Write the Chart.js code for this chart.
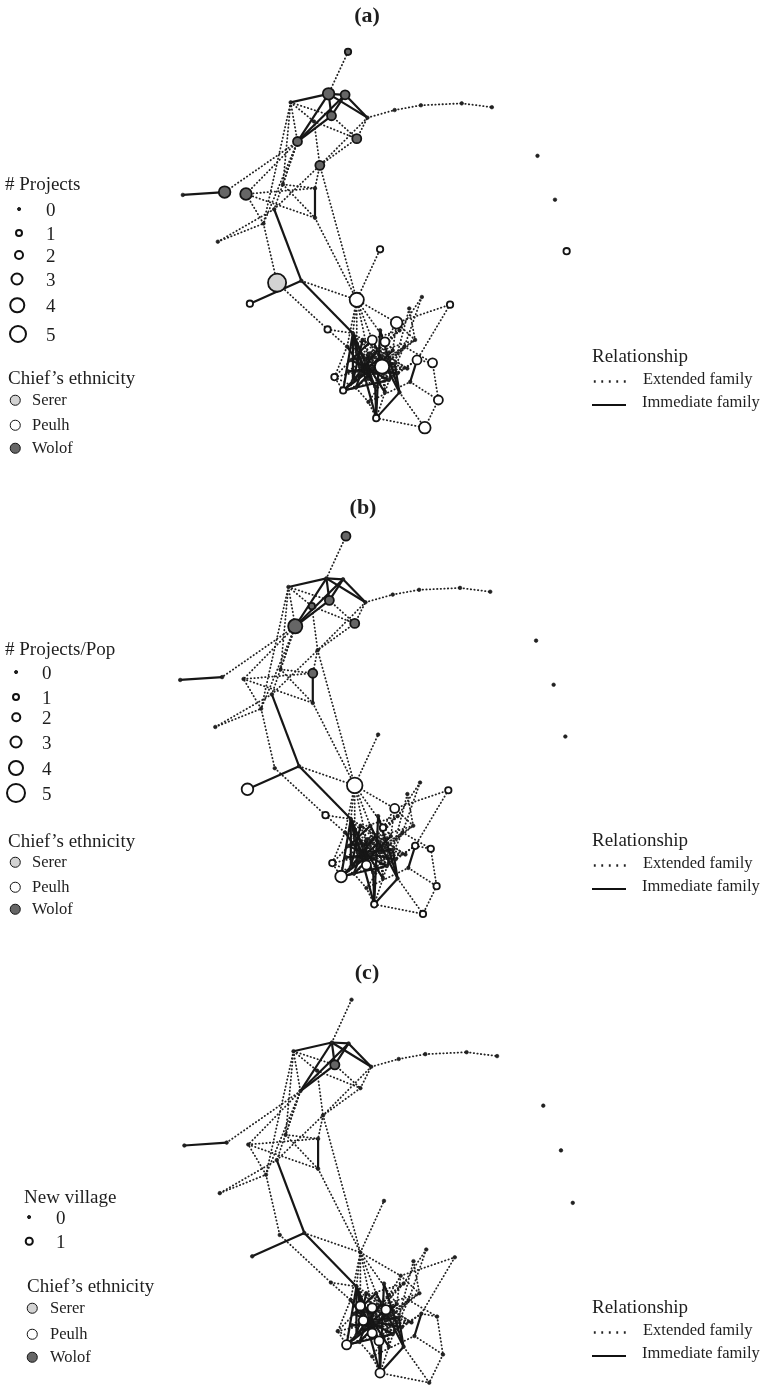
<!DOCTYPE html>
<html><head><meta charset="utf-8">
<script src="https://cdn.jsdelivr.net/npm/chart.js@4.4.1/dist/chart.umd.min.js"></script>
<style>
html,body{margin:0;padding:0;background:#fff;}
body{width:766px;height:1392px;position:relative;overflow:hidden;font-family:'Liberation Serif','Times New Roman',serif;color:#1e1e1e;}
canvas{position:absolute;left:0;}
.t{position:absolute;white-space:nowrap;transform:translateY(-50%);line-height:1;z-index:2;}
.title{font-weight:bold;font-size:22px;transform:translate(-50%,-50%);}
.h{font-size:19px;}
.n{font-size:19px;}
.l{font-size:16.5px;}
.sym{position:absolute;border-radius:50%;box-sizing:border-box;transform:translate(-50%,-50%);z-index:2;}
.dots{position:absolute;height:3px;z-index:2;background-image:radial-gradient(circle,#222 1px,rgba(255,255,255,0) 1.4px);background-size:7.5px 3px;background-position:0 0;}
.solid{position:absolute;height:2px;background:#111;z-index:2;}
</style></head><body>
<canvas id="pa" width="766" height="470" style="top:0px"></canvas>
<canvas id="pb" width="766" height="465" style="top:470px"></canvas>
<canvas id="pc" width="766" height="457" style="top:935px"></canvas>
<div id="legends"></div>
<script>
// ---------------- DATA ----------------
const panelTitles = ['(a)', '(b)', '(c)'];
const sizeLegendTitles = ['# Projects', '# Projects/Pop', 'New village'];
const projectTicks = ['0', '1', '2', '3', '4', '5'];
const newVillageTicks = ['0', '1'];
const ethnicityTitle = 'Chief\u2019s ethnicity';
const ethnicityLabels = ['Serer', 'Peulh', 'Wolof'];
const relationshipTitle = 'Relationship';
const relationshipLabels = ['Extended family', 'Immediate family'];

const nodeIds = ['n0','n1','n2','n3','n4','n5','n6','n7','n8','n9','n10','n11','n12','n13','n14','n15','n16','n17','n18',
  'a1','a2','a3','a4','r1','r2','r3','hub','grey','leaf','w1','w2','m1','w3','w4','m2','m3',
  'c1','c2','c3','c4','c5','c6','c7','c8','c9','c10','c11','c12','c13','c14','c15','c16','c17','c18','c19','c20',
  'c21','c22','c23','c24','c25','c26','c27','c28','c29','c30','c31',
  'c32','c33','c34','c35','c36','c37','c38','c39','c40','c41'];
const nodeX = [347,327,344,288,330,367,312,295,356,318,220,242,177,313,313,271,213,260,280,
  395,422,464,495,542,560,572,299,274,246,356,380,326,397,452,423,410,
  352,342,376,400,411,372,385,382,368,360,375,395,393,350,405,346,389,368,355,400,
  416,333,356,382,359,368,418,434,440,426,380,
  362,378,398,352,385,408,365,390,347,372];
const nodeY = [43,87,88,96,110,112,116,137,134,162,190,192,193,186,217,208,242,223,182,
  104,99,97,101,152,198,252,283,285,307,303,250,334,327,308,300,312,
  338,398,427,400,389,345,347,373,360,380,394,370,356,366,352,352,387,410,395,335,
  345,384,358,362,373,386,366,369,408,437,335,
  345,355,380,388,400,375,368,365,378,375];
const ethnicity = ['W','W','W','W','W','W','W','W','W','W','W','W','W','W','W','S','S','S','S',
  'W','W','W','W','P','P','P','S','S','P','P','P','P','P','P','P','P',
  'P','P','P','P','P','P','P','P','P','P','P','P','P','P','P','P','P','P','P','P',
  'P','P','P','P','P','P','P','P','P','P','P',
  'P','P','P','P','P','P','P','P','P','P'];
// panel (a): number of projects
const projects = [1,3,2,0,2,0,0,2,2,2,3,3,0,0,0,0,0,0,0,
  0,0,0,0,0,0,1,0,5.5,1,4,1,1,3,1,0,0,
  0,1,1,0,0,2,2,4,0,0,0,0,0,0,0,0,0,0,0,0,
  0,1,0,0,0,0,2,2,2,3,0,
  0,0,0,0,0,0,0,0,0,0];
// panel (b): projects per population
const projectsPerPop = [2,0,0,0,2,0,1,4,2,0,0,0,0,2,0,0,0,0,0,
  0,0,0,0,0,0,0,0,0,3,4.5,0,1,2,1,0,0,
  0,3,1,0,0,0,1,0,0,0,0,0,0,0,0,0,0,0,0,0,
  0,1,0,0,0,2,1,1,1,1,0,
  0,0,0,0,0,0,0,0,0,0];
// panel (c): new village
const newVillage = [0,0,0,0,1,0,0,0,0,0,0,0,0,0,0,0,0,0,0,
  0,0,0,0,0,0,0,0,0,0,0,0,0,0,0,0,0,
  0,1,1,0,0,0,0,0,1,0,1,0,0,0,0,0,0,0,0,0,
  0,0,1,1,1,1,0,0,0,0,0,
  0,0,0,0,0,0,0,0,0,0];

const extendedFamily = [
  ['n0','n1'],['n5','a1'],['a1','a2'],['a2','a3'],['a3','a4'],
  ['n3','n7'],['n3','n6'],['n3','n4'],['n6','n8'],['n4','n8'],['n8','n5'],['n5','n9'],['n8','n9'],['n6','n9'],['n3','n17'],['n3','n18'],
  ['n7','n11'],['n7','n10'],['n7','n15'],['n7','n18'],['n7','n17'],
  ['n15','n16'],['n15','n9'],['n11','n13'],['n11','n14'],['n9','n13'],['n16','n17'],['n17','grey'],['n17','n11'],['n18','n14'],['n18','n13'],
  ['n14','w1'],['n9','w1'],['hub','w1'],['grey','m1'],['m1','c1'],['m1','c16'],
  ['w1','w2'],['w1','c1'],['w1','c6'],['w1','c9'],['w1','c13'],['w1','c16'],['w1','c23'],['w1','w3'],
  ['w3','w4'],['w3','c7'],['w3','c13'],['w3','c21'],['w4','c27'],['m2','c20'],['m2','c15'],['m3','c21'],['m3','c12'],
  ['c27','c28'],['c28','c29'],['c29','c30'],['c30','c4'],['c5','c29'],['c28','c15'],
  ['c2','c22'],['c22','c14'],['c22','c19'],['c16','c22'],['c3','c18'],['c18','c19'],['c3','c30'],
  ['c9','c12'],['c10','c12'],['c13','c14'],['c14','c24'],['c15','c17'],['c16','c8'],['c19','c8'],['c23','c12'],['c24','c26'],
  ['c25','c13'],['c26','c15'],['c6','c17'],['c7','c10'],['c8','c21'],['c11','c15'],['c20','c9'],['c20','c16'],['c12','c18'],
  ['c17','c25'],['c27','c11'],['c1','c8'],['c21','c14'],['c20','c25'],['c13','c19'],['c24','c10'],['c3','c12'],['c18','c5'],['c27','c17'],
  ['c32','c34'],['c33','c35'],['c33','c40'],['c34','c40'],['c35','c39'],['c36','c38'],['c37','c38'],['c37','c40'],['c38','c39'],
  ['c39','c35'],['c41','c21'],['c41','c32'],['c36','c33'],['c32','c37'],['c35','c20'],['c6','c41'],['c7','c36'],['c12','c40'],
  ['c15','c35'],['c9','c34'],['c24','c36'],['c23','c37'],['c26','c39'],['c13','c41'],['c1','c37'],['c22','c41'],['c19','c34'],
  ['c16','c39'],['c14','c33'],['c10','c37']
];
const immediateFamily = [
  ['n3','n1'],['n1','n2'],['n1','n7'],['n2','n7'],['n1','n4'],['n2','n4'],['n2','n5'],['n1','n5'],['n4','n7'],
  ['n12','n10'],['n13','n14'],['n15','hub'],['hub','leaf'],['hub','c1'],
  ['c1','c2'],['c1','c10'],['c1','c3'],['c1','c11'],['c2','c10'],['c2','c19'],['c2','c17'],['c3','c31'],['c31','c4'],['c3','c4'],
  ['c3','c11'],['c4','c12'],['c4','c6'],['c6','c14'],['c10','c24'],['c14','c17'],['c19','c9'],['c16','c11'],['c5','c27'],
  ['c9','c26'],['c25','c12'],['c23','c11'],['c19','c13'],
  ['c1','c38'],['c35','c33'],['c38','c36'],['c40','c41'],['c41','c34'],['c32','c35'],['c2','c41'],['c1','c35']
];

// ---------------- STYLE ----------------
const ethFill = {S:'#d3d3d3', P:'#ffffff', W:'#666666'};
function radiusAB(v){ return v === 0 ? 1.8 : 1.9 + 1.3 * v; }
function radiusC(v){ return v === 0 ? 1.8 : 4.6; }

const idx = {};
nodeIds.forEach((id, i) => idx[id] = i);

function edgeDataset(pair, solid){
  const a = idx[pair[0]], b = idx[pair[1]];
  return {
    type: 'scatter', showLine: true,
    data: [{x: nodeX[a], y: nodeY[a]}, {x: nodeX[b], y: nodeY[b]}],
    borderColor: solid ? '#161616' : '#222222',
    borderWidth: solid ? 2.2 : 1.8,
    borderDash: solid ? [] : [0.4, 3.2],
    borderCapStyle: solid ? 'butt' : 'round',
    pointRadius: 0, order: solid ? 1 : 2, clip: false
  };
}

function makePanel(canvasId, values, radiusFn, dx, dy, top, height){
  const datasets = [{
    type: 'scatter',
    data: nodeIds.map((id, i) => ({x: nodeX[i], y: nodeY[i]})),
    pointRadius: values.map(radiusFn),
    pointBackgroundColor: values.map((v, i) => v === 0 ? '#222222' : ethFill[ethnicity[i]]),
    pointBorderColor: '#141414',
    pointBorderWidth: values.map(v => v === 0 ? 0.6 : 1.8),
    order: 0, clip: false
  }];
  extendedFamily.forEach(p => datasets.push(edgeDataset(p, false)));
  immediateFamily.forEach(p => datasets.push(edgeDataset(p, true)));
  new Chart(document.getElementById(canvasId), {
    type: 'scatter',
    data: {datasets},
    options: {
      responsive: false, animation: false, events: [], devicePixelRatio: 1,
      layout: {padding: 0},
      plugins: {legend: {display: false}, tooltip: {enabled: false}},
      scales: {
        x: {type: 'linear', display: false, min: -dx, max: 766 - dx},
        y: {type: 'linear', display: false, reverse: true, min: top - dy, max: top + height - dy}
      }
    }
  });
}

makePanel('pa', projects, radiusAB, 0, 0, 0, 470);
makePanel('pb', projectsPerPop, radiusAB, -2, 486, 470, 465);
makePanel('pc', newVillage, radiusC, 4, 952, 935, 457);

// ---------------- LEGENDS (DOM text) ----------------
const L = document.getElementById('legends');
function text(str, cls, left, cy){
  const d = document.createElement('div');
  d.className = 't ' + cls; d.textContent = str;
  d.style.left = left + 'px'; d.style.top = cy + 'px';
  L.appendChild(d);
}
function sym(cx, cy, dia, fill, bw){
  const d = document.createElement('div');
  d.className = 'sym';
  d.style.left = cx + 'px'; d.style.top = cy + 'px';
  d.style.width = dia + 'px'; d.style.height = dia + 'px';
  d.style.background = fill; d.style.border = bw + 'px solid #111';
  L.appendChild(d);
}
function title(str, cx, cy){
  const d = document.createElement('div');
  d.className = 't title'; d.textContent = str;
  d.style.left = cx + 'px'; d.style.top = cy + 'px';
  L.appendChild(d);
}
function relLegend(top){
  text(relationshipTitle, 'h', 592, top);
  const ds = document.createElement('div'); ds.className = 'dots';
  ds.style.left = '591px'; ds.style.width = '37px'; ds.style.top = (top + 25) + 'px'; L.appendChild(ds);
  text(relationshipLabels[0], 'l', 643, top + 24);
  const sl = document.createElement('div'); sl.className = 'solid';
  sl.style.left = '592px'; sl.style.width = '34px'; sl.style.top = (top + 49) + 'px'; L.appendChild(sl);
  text(relationshipLabels[1], 'l', 642, top + 47);
}
function ethLegend(titleLeft, titleCy, ys, symX, textX){
  text(ethnicityTitle, 'h', titleLeft, titleCy);
  const fills = [ethFill.S, ethFill.P, ethFill.W];
  ethnicityLabels.forEach((lab, i) => {
    sym(symX, ys[i], 10.5, fills[i], 1.8);
    text(lab, 'l', textX, ys[i]);
  });
}

title(panelTitles[0], 367, 15);
title(panelTitles[1], 363, 507);
title(panelTitles[2], 367, 972);

// (a)
text(sizeLegendTitles[0], 'h', 5, 183);
const aY = [209,233,255,279,305,334], aX = [19,19,19,17,17,18], aD = [3.8,8,10,13,15.5,18];
projectTicks.forEach((t, i) => {
  if (i === 0) sym(aX[i], aY[i], aD[i], '#222', 0.6); else sym(aX[i], aY[i], aD[i], '#fff', 2);
  text(t, 'n', 46, aY[i]);
});
ethLegend(8, 377, [400,425,448], 15, 32);
relLegend(355);

// (b)
text(sizeLegendTitles[1], 'h', 5, 648);
const bY = [672,697,717,742,768,793], bX = [16,16,16,16,16,16], bD = [3.8,8,9.5,13,16,20];
projectTicks.forEach((t, i) => {
  if (i === 0) sym(bX[i], bY[i], bD[i], '#222', 0.6); else sym(bX[i], bY[i], bD[i], '#fff', 2);
  text(t, 'n', 42, bY[i]);
});
ethLegend(8, 840, [862,887,909], 15, 32);
relLegend(839);

// (c)
text(sizeLegendTitles[2], 'h', 24, 1196);
const cY = [1217,1241], cD = [3.8,8.5];
newVillageTicks.forEach((t, i) => {
  if (i === 0) sym(29, cY[i], cD[i], '#222', 0.6); else sym(29, cY[i], cD[i], '#fff', 2);
  text(t, 'n', 56, cY[i]);
});
ethLegend(27, 1285, [1308,1334,1357], 32, 50);
relLegend(1306);
</script>
</body></html>
